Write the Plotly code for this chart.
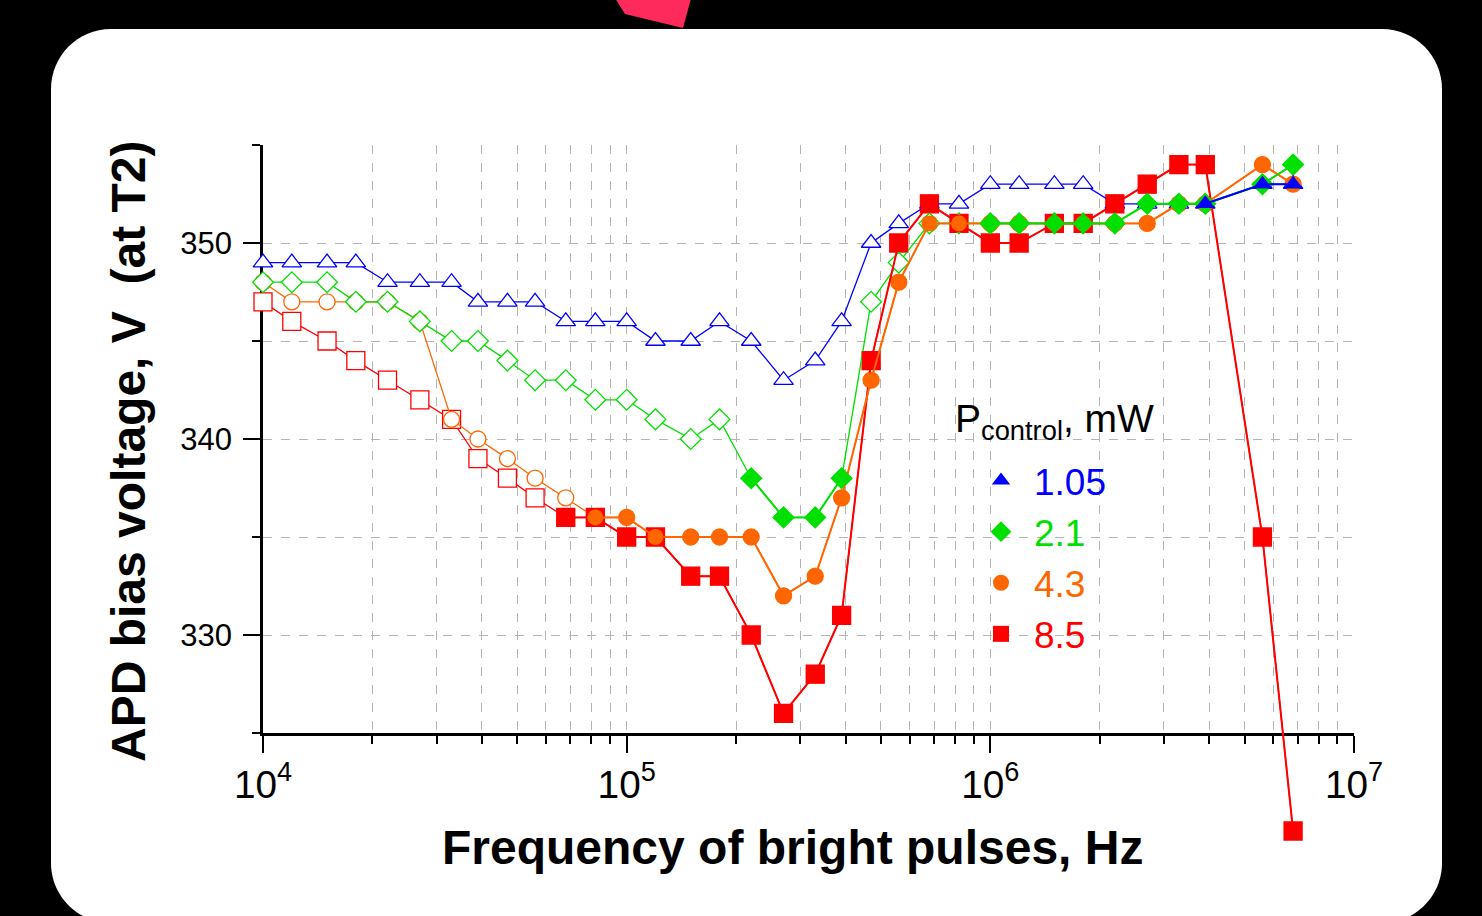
import plotly.graph_objects as go

# ---------------- data ----------------
freq_hz = [1.0e4, 1.2e4, 1.5e4, 1.8e4, 2.2e4, 2.7e4, 3.3e4, 3.9e4, 4.7e4, 5.6e4, 6.8e4, 8.2e4,
           1.0e5, 1.2e5, 1.5e5, 1.8e5, 2.2e5, 2.7e5, 3.3e5, 3.9e5, 4.7e5, 5.6e5, 6.8e5, 8.2e5,
           1.0e6, 1.2e6, 1.5e6, 1.8e6, 2.2e6, 2.7e6, 3.3e6, 3.9e6, 5.6e6, 6.8e6]

v_p105 = [349, 349, 349, 349, 348, 348, 348, 347, 347, 347, 346, 346,
          346, 345, 345, 346, 345, 343, 344, 346, 350, 351, 352, 352,
          353, 353, 353, 353, 352, 352, 352, 352, 353, 353]
v_p21 = [348, 348, 348, 347, 347, 346, 345, 345, 344, 343, 343, 342,
         342, 341, 340, 341, 338, 336, 336, 338, 347, 349, 351, 351,
         351, 351, 351, 351, 351, 352, 352, 352, 353, 354]
v_p43 = [348, 347, 347, 347, 347, 346, 341, 340, 339, 338, 337, 336,
         336, 335, 335, 335, 335, 332, 333, 337, 343, 348, 351, 351,
         351, 351, 351, 351, 351, 351, 352, 352, 354, 353]
v_p85 = [347, 346, 345, 344, 343, 342, 341, 339, 338, 337, 336, 336,
         335, 335, 333, 333, 330, 326, 328, 331, 344, 350, 352, 351,
         350, 350, 351, 351, 352, 353, 354, 354, 335, 320]

# 1 = filled marker, 0 = open marker
f_p105 = [0, 0, 0, 0, 0, 0, 0, 0, 0, 0, 0, 0,
          0, 0, 0, 0, 0, 0, 0, 0, 0, 0, 0, 0,
          0, 0, 0, 0, 0, 0, 0, 1, 1, 1]
f_p21 = [0, 0, 0, 0, 0, 0, 0, 0, 0, 0, 0, 0,
         0, 0, 0, 0, 1, 1, 1, 1, 0, 0, 0, 0,
         1, 1, 1, 1, 1, 1, 1, 1, 1, 1]
f_p43 = [0, 0, 0, 0, 0, 0, 0, 0, 0, 0, 0, 1,
         1, 1, 1, 1, 1, 1, 1, 1, 1, 1, 1, 1,
         1, 1, 1, 1, 1, 1, 1, 1, 1, 1]
f_p85 = [0, 0, 0, 0, 0, 0, 0, 0, 0, 0, 1, 1,
         1, 1, 1, 1, 1, 1, 1, 1, 1, 1, 1, 1,
         1, 1, 1, 1, 1, 1, 1, 1, 1, 1]

legend_labels = ["1.05", "2.1", "4.3", "8.5"]

# ---------------- geometry / style ----------------
W, H = 1482, 916
ML, MR, MT, MB = 263, 128, 145, 60
AX_BOTTOM_PX = 733
Y_RANGE = [325, 355]
X_RANGE = [4, 7]
PW = W - ML - MR
PH = H - MT - MB
FONT = "Liberation Sans, Arial, sans-serif"
GRID = "#b4b4b4"


def px2x(px):
    return (px - ML) / PW


def px2y(py):
    return (H - MB - py) / PH


y_dom0 = (H - MB - AX_BOTTOM_PX) / PH
units_per_px = (Y_RANGE[1] - Y_RANGE[0]) / (AX_BOTTOM_PX - MT)
y2_range = [Y_RANGE[1] - PH * units_per_px, Y_RANGE[1]]

series = [
    ("8.5", v_p85, f_p85, "#ff0000", "square", 18),
    ("4.3", v_p43, f_p43, "#ff6600", "circle", 16),
    ("2.1", v_p21, f_p21, "#00e000", "diamond", 16),
    ("1.05", v_p105, f_p105, "#0000ff", "triangle-up", 17),
]

fig = go.Figure()

# invisible carrier trace so the main (visible) axes are rendered
fig.add_trace(go.Scatter(x=freq_hz, y=v_p105, mode="none", xaxis="x", yaxis="y",
                         showlegend=False, hoverinfo="skip"))

# thin lines + open markers layer
for name, vals, flags, col, sym, sz in series:
    fig.add_trace(go.Scatter(
        x=freq_hz, y=vals, mode="lines+markers", xaxis="x2", yaxis="y2",
        line=dict(color=col, width=1.3),
        marker=dict(symbol=sym, size=sz,
                    color=[col if f else "white" for f in flags],
                    line=dict(color=col, width=1.3)),
        cliponaxis=False, showlegend=False, hoverinfo="skip"))

# thick lines + filled markers layer
for name, vals, flags, col, sym, sz in series:
    fig.add_trace(go.Scatter(
        x=freq_hz, y=[v if f else None for v, f in zip(vals, flags)],
        mode="lines+markers", xaxis="x2", yaxis="y2", connectgaps=False,
        line=dict(color=col, width=2),
        marker=dict(symbol=sym, size=sz, color=col, line=dict(width=0)),
        cliponaxis=False, showlegend=False))

# legend entries
for name, vals, flags, col, sym, sz in reversed(series):
    fig.add_trace(go.Scatter(
        x=[None], y=[None], mode="markers", xaxis="x2", yaxis="y2",
        marker=dict(symbol=sym, size=16, color=col),
        name="<span style='color:%s'>%s</span>" % (col, name)))


# card background + pink decoration
def rrect(x0, y0, x1, y1, r):
    k = 0.5523 * r
    pts = []
    pts.append("M %f %f" % (px2x(x0 + r), px2y(y0)))
    pts.append("L %f %f" % (px2x(x1 - r), px2y(y0)))
    pts.append("C %f %f %f %f %f %f" % (px2x(x1 - r + k), px2y(y0), px2x(x1), px2y(y0 + r - k), px2x(x1), px2y(y0 + r)))
    pts.append("L %f %f" % (px2x(x1), px2y(y1 - r)))
    pts.append("C %f %f %f %f %f %f" % (px2x(x1), px2y(y1 - r + k), px2x(x1 - r + k), px2y(y1), px2x(x1 - r), px2y(y1)))
    pts.append("L %f %f" % (px2x(x0 + r), px2y(y1)))
    pts.append("C %f %f %f %f %f %f" % (px2x(x0 + r - k), px2y(y1), px2x(x0), px2y(y1 - r + k), px2x(x0), px2y(y1 - r)))
    pts.append("L %f %f" % (px2x(x0), px2y(y0 + r)))
    pts.append("C %f %f %f %f %f %f" % (px2x(x0), px2y(y0 + r - k), px2x(x0 + r - k), px2y(y0), px2x(x0 + r), px2y(y0)))
    pts.append("Z")
    return " ".join(pts)


pink_pts = [(613, -5), (625, 14), (683, 28), (692, -5)]
pink_path = "M " + " L ".join("%f %f" % (px2x(a), px2y(b)) for a, b in pink_pts) + " Z"

shapes = [
    dict(type="path", xref="paper", yref="paper", path=pink_path,
         fillcolor="#ff2a5c", line=dict(width=0), layer="below"),
    dict(type="path", xref="paper", yref="paper", path=rrect(51, 29, 1442, 923, 60),
         fillcolor="white", line=dict(width=0), layer="below"),
    # white panel behind the legend hiding the grid
    dict(type="rect", xref="paper", yref="paper",
         x0=px2x(921), x1=px2x(1200), y0=px2y(690), y1=px2y(361),
         fillcolor="white", line=dict(width=0), layer="between"),
]

axis_common = dict(
    showline=True, linecolor="black", linewidth=2.5, mirror=False,
    ticks="outside", ticklen=17, tickwidth=2, tickcolor="black",
    tickfont=dict(family=FONT, size=31, color="black"),
    showgrid=True, gridcolor=GRID, gridwidth=1, griddash="dash", zeroline=False,
)

fig.update_layout(
    width=W, height=H,
    margin=dict(l=ML, r=MR, t=MT, b=MB, autoexpand=False),
    paper_bgcolor="black", plot_bgcolor="rgba(0,0,0,0)",
    font=dict(family=FONT, color="black"),
    shapes=shapes,
    xaxis=dict(type="log", range=X_RANGE, domain=[0, 1], anchor="y", dtick=1,
               exponentformat="power", ticklabelstandoff=0,
               minor=dict(dtick="D1", ticks="outside", ticklen=8, tickwidth=1.5, tickcolor="black",
                          showgrid=True, gridcolor=GRID, gridwidth=1, griddash="dash"),
               **axis_common),
    yaxis=dict(range=Y_RANGE, domain=[y_dom0, 1], anchor="x", dtick=10, tick0=0,
               ticklabelstandoff=5,
               minor=dict(dtick=5, tick0=0, ticks="outside", ticklen=8, tickwidth=1.5, tickcolor="black",
                          showgrid=True, gridcolor=GRID, gridwidth=1, griddash="dash"),
               **axis_common),
    xaxis2=dict(type="log", range=X_RANGE, domain=[0, 1], anchor="y2", visible=False),
    yaxis2=dict(range=y2_range, domain=[0, 1], anchor="x2", visible=False),
    legend=dict(x=px2x(922), y=px2y(450), xanchor="left", yanchor="top",
                bgcolor="rgba(0,0,0,0)", borderwidth=0, indentation=46, itemwidth=56,
                font=dict(family=FONT, size=37)),
    annotations=[
        dict(text="P<sub>control</sub>, mW", xref="paper", yref="paper",
             x=px2x(953), y=px2y(421), xanchor="left", yanchor="middle", showarrow=False,
             font=dict(family=FONT, size=39, color="black")),
        dict(text="<b>Frequency of bright pulses, Hz</b>", xref="paper", yref="paper",
             x=px2x(792), y=px2y(847), xanchor="center", yanchor="middle", showarrow=False,
             font=dict(family=FONT, size=48, color="black")),
        dict(text="<b>APD bias voltage, V  (at T2)</b>", xref="paper", yref="paper",
             x=px2x(128), y=px2y(452), xanchor="center", yanchor="middle", showarrow=False,
             textangle=-90, font=dict(family=FONT, size=48, color="black")),
    ],
    showlegend=True,
)

fig.write_html("out.html")
